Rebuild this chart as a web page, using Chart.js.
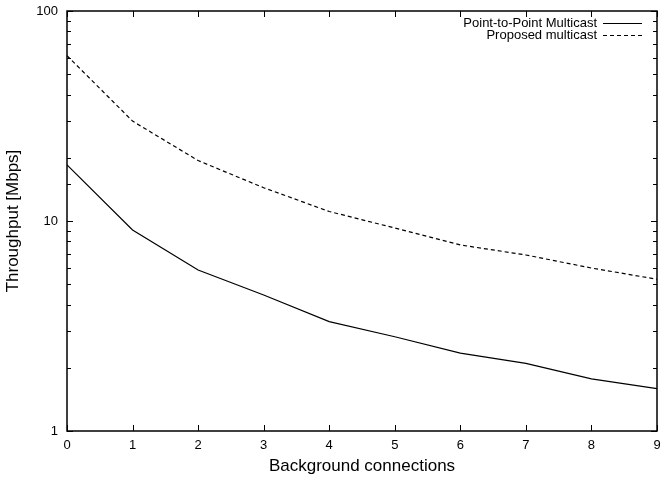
<!DOCTYPE html>
<html>
<head>
<meta charset="utf-8">
<script src="https://cdn.jsdelivr.net/npm/chart.js@4"></script>
<style>
  html, body { margin: 0; padding: 0; background: #fff; }
  #wrap { width: 660px; height: 477px; }
</style>
</head>
<body>
<div id="wrap"><canvas id="chart" width="660" height="477"></canvas></div>
<script>
// values (log scale)
const connections = ['0', '1', '2', '3', '4', '5', '6', '7', '8', '9'];
const p2pMulticast = [18.5, 9.06, 5.84, 4.44, 3.32, 2.81, 2.35, 2.10, 1.77, 1.59];
const proposedMulticast = [61.3, 29.9, 19.4, 14.4, 11.1, 9.26, 7.69, 6.89, 5.97, 5.28];
const yMajorTicks = [1, 10, 100];

const FONT = 'Liberation Sans, Arial, Helvetica, sans-serif';

// gnuplot style frame with inward ticks on all four sides + legend in top right
const gnuplotFrame = {
    id: 'gnuplotFrame',
    afterDraw(chart) {
        const ctx = chart.ctx;
        const a = chart.chartArea;
        const xs = chart.scales.x, ys = chart.scales.y;
        ctx.save();
        ctx.strokeStyle = '#000';
        ctx.lineWidth = 1;
        ctx.beginPath();
        // x ticks bottom and top
        xs.ticks.forEach((t, i) => {
            const px = Math.round(xs.getPixelForTick(i)) + 0.5;
            ctx.moveTo(px, a.bottom); ctx.lineTo(px, a.bottom - 6);
            ctx.moveTo(px, a.top); ctx.lineTo(px, a.top + 6);
        });
        // y ticks left and right, major/minor
        ys.ticks.forEach(t => {
            const py = Math.round(ys.getPixelForValue(t.value)) + 0.5;
            const len = yMajorTicks.includes(t.value) ? 6 : 4;
            ctx.moveTo(a.left, py); ctx.lineTo(a.left + len, py);
            ctx.moveTo(a.right, py); ctx.lineTo(a.right - len, py);
        });
        ctx.stroke();
        ctx.lineWidth = 1.5;
        ctx.strokeRect(a.left, a.top, a.right - a.left, a.bottom - a.top);

        // legend
        ctx.font = '13px ' + FONT;
        ctx.textAlign = 'right';
        ctx.textBaseline = 'middle';
        ctx.fillStyle = '#000';
        chart.data.datasets.forEach((ds, i) => {
            const y = 23 + i * 12;
            ctx.fillText(ds.label, 597, y);
            ctx.beginPath();
            ctx.lineWidth = 1;
            ctx.setLineDash(ds.borderDash || []);
            ctx.moveTo(603, Math.round(y) + 0.5);
            ctx.lineTo(642, Math.round(y) + 0.5);
            ctx.stroke();
        });
        ctx.restore();
    }
};

new Chart(document.getElementById('chart'), {
    type: 'line',
    data: {
        labels: connections,
        datasets: [
            {
                label: 'Point-to-Point Multicast',
                data: p2pMulticast,
                borderColor: '#000',
                borderWidth: 1.2,
                pointRadius: 0,
                tension: 0,
                fill: false
            },
            {
                label: 'Proposed multicast',
                data: proposedMulticast,
                borderColor: '#000',
                borderWidth: 1.2,
                borderDash: [4, 3],
                pointRadius: 0,
                tension: 0,
                fill: false
            }
        ]
    },
    options: {
        responsive: false,
        animation: false,
        devicePixelRatio: 1,
        layout: { padding: { top: 11, right: 3, left: 0, bottom: 0 } },
        plugins: { legend: { display: false }, tooltip: { enabled: false } },
        scales: {
            x: {
                type: 'category',
                offset: false,
                grid: { display: false, drawTicks: false },
                border: { display: false },
                ticks: { color: '#000', font: { family: FONT, size: 13 }, padding: 7, maxRotation: 0, autoSkip: false },
                title: { display: true, text: 'Background connections', color: '#000', font: { family: FONT, size: 17 }, padding: { top: 1, bottom: 0 } },
                afterFit(s) { s.height = 46; s.paddingLeft = 0; s.paddingRight = 0; }
            },
            y: {
                type: 'logarithmic',
                min: 1,
                max: 100,
                grid: { display: false, drawTicks: false },
                border: { display: false },
                ticks: {
                    color: '#000',
                    font: { family: FONT, size: 13 },
                    padding: 9,
                    autoSkip: false,
                    callback: v => yMajorTicks.includes(v) ? String(v) : ''
                },
                title: { display: true, text: 'Throughput [Mbps]', color: '#000', font: { family: FONT, size: 17 }, padding: { top: 3, bottom: 0 } },
                afterFit(s) { s.width = 67; s.paddingTop = 0; s.paddingBottom = 0; }
            }
        }
    },
    plugins: [gnuplotFrame]
});
</script>
</body>
</html>
